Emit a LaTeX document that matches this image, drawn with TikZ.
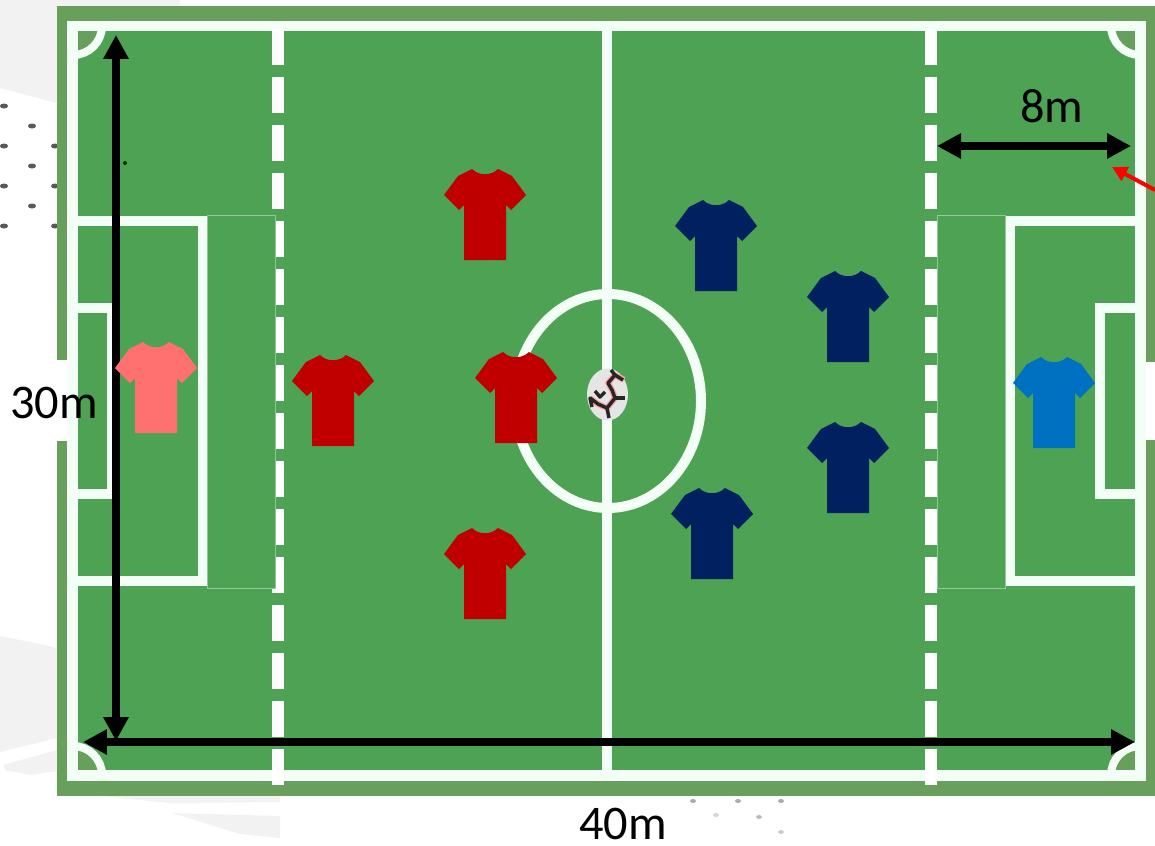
\documentclass[tikz,border=0pt]{standalone}
\usepackage{fontspec}
\setmainfont{Carlito}
\usetikzlibrary{arrows.meta}
\definecolor{pitchband}{RGB}{104,159,92}
\definecolor{pitchgreen}{RGB}{77,163,83}
\definecolor{linewhite}{RGB}{243,255,246}
\definecolor{teamred}{RGB}{192,0,0}
\definecolor{keeperpink}{RGB}{255,112,112}
\definecolor{teamnavy}{RGB}{0,32,96}
\definecolor{keeperblue}{RGB}{0,112,192}
\definecolor{smear}{RGB}{242,242,242}

\begin{document}
\begin{tikzpicture}[
    x=0.02cm, y=-0.02cm,
    pitchline/.style={draw=linewhite, line width=0.2cm},
    cornerline/.style={draw=linewhite, fill=pitchband, line width=0.16cm},
    halfway/.style={draw=white, line width=0.24cm, dash pattern=on 0.72cm off 0.24cm},
    zone/.style={draw=white!40!pitchgreen, fill=pitchgreen, line width=0.02cm},
    measure/.style={line width=0.16cm, {Triangle[length=0.48cm,width=0.48cm]}-{Triangle[length=0.48cm,width=0.48cm]}},
    label/.style={font=\fontsize{27.5}{30}\selectfont, text=black, inner sep=0pt},
    speck/.style={fill=black!65, draw=none},
    seam/.style={draw=black!85, line width=0.07cm, line join=round},
    glow/.style={draw=red!35, line width=0.12cm, line join=round},
    shirt/.pic={
        \path[pic actions] (-13,0) .. controls (-6,7) and (6,7) .. (13,0)
            -- (27,7) -- (41,26) -- (26,41) -- (21,36) -- (21,91) -- (-21,91)
            -- (-21,36) -- (-26,41) -- (-41,26) -- (-27,7) -- cycle;
    }
]
    \useasboundingbox (0,0) rectangle (1155,845);

    % Background smears and specks
    \fill[smear] (0,0) -- (180,0) -- (180,6) -- (57,6) -- (57,103) -- (0,88) -- cycle;
    \fill[smear] (0,636) -- (45,645) -- (57,648) -- (57,738) -- (0,752) -- cycle;
    \fill[smear] (3,765) -- (57,750) -- (57,771) -- (30,775) -- (5,770) -- cycle;
    \fill[smear] (100,796) -- (280,796) -- (280,802) -- (170,803) -- cycle;
    \fill[smear] (172,813) -- (280,816) -- (280,838) -- (240,834) -- cycle;
    \foreach \px/\py in {4/106,32/126,4/146,32/166,4/186,32/206,4/226,55/146,55/186,55/226}
        \fill[speck] (\px,\py) ellipse [x radius=4,y radius=2.5];
    \foreach \px in {693,738,781}
        \fill[speck, opacity=0.5] (\px,801) ellipse [x radius=3,y radius=2];
    \fill[speck, opacity=0.25] (716,815) ellipse [x radius=3,y radius=2];
    \fill[speck, opacity=0.4] (759,817) ellipse [x radius=3,y radius=2];
    \fill[speck, opacity=0.3] (781,832) ellipse [x radius=3,y radius=2];

    % Pitch
    \fill[pitchband] (57,6) rectangle (1155,796);
    \fill[pitchgreen] (72,25) rectangle (1140,775);
    \fill[white] (57,360) rectangle (68,441);
    \fill[white] (1145,362) rectangle (1155,440);
    \draw[cornerline] (73,26) -- (102,26) arc [start angle=0,end angle=90,radius=29] -- cycle;
    \draw[cornerline] (1140,26) -- (1111,26) arc [start angle=180,end angle=90,radius=29] -- cycle;
    \draw[cornerline] (73,775) -- (102,775) arc [start angle=0,end angle=-90,radius=29] -- cycle;
    \draw[cornerline] (1140,775) -- (1111,775) arc [start angle=180,end angle=270,radius=29] -- cycle;
    \draw[pitchline, line width=0.22cm] (72.5,26) rectangle (1140,775);
    \draw[pitchline] (72.5,220.5) -- (202.5,220.5) -- (202.5,580.5) -- (72.5,580.5);
    \draw[pitchline] (72.5,307.5) -- (112,307.5) -- (112,493.5) -- (72.5,493.5);
    \draw[pitchline] (1140,220.5) -- (1010,220.5) -- (1010,580.5) -- (1140,580.5);
    \draw[pitchline] (1140,307.5) -- (1099.5,307.5) -- (1099.5,493.5) -- (1140,493.5);
    \draw[pitchline] (606.5,25) -- (606.5,775);
    \draw[pitchline] (608,401) ellipse [x radius=93,y radius=107];

    % Dashed lines and the zones beside them
    \draw[halfway] (278,29) -- (278,785);
    \draw[halfway] (931,29) -- (931,785);
    \draw[zone] (207,215) rectangle (275,588);
    \draw[zone] (937,215) rectangle (1005,588);
    \fill[black!80!green] (125,163) circle [radius=2];

    % Measures
    \coordinate (topend) at (116,35);
    \coordinate (bottomend) at (116,741);
    \coordinate (leftend) at (83,742);
    \coordinate (rightend) at (1135,742);
    \coordinate (zoneleft) at (937,146);
    \coordinate (zoneright) at (1131,146);
    \coordinate (pointerstart) at (1155,190);
    \coordinate (pointertip) at (1112,167);
    \draw[measure] (topend) -- (bottomend);
    \draw[measure] (leftend) -- (rightend);
    \draw[measure] (zoneleft) -- (zoneright);
    \draw[red, line width=0.08cm, -{Triangle[length=0.3cm,width=0.3cm]}] (pointerstart) -- (pointertip);

    % Players
    \pic[fill=keeperpink] (keeper1) at (156,342) {shirt};
    \pic[fill=teamred] (red1) at (485,169) {shirt};
    \pic[fill=teamred] (red2) at (333,355) {shirt};
    \pic[fill=teamred] (red3) at (516,352) {shirt};
    \pic[fill=teamred] (red4) at (485,528) {shirt};
    \pic[fill=teamnavy] (navy1) at (716,200) {shirt};
    \pic[fill=teamnavy] (navy2) at (848,271) {shirt};
    \pic[fill=teamnavy] (navy3) at (848,422) {shirt};
    \pic[fill=teamnavy] (navy4) at (712,488) {shirt};
    \pic[fill=keeperblue] (keeper2) at (1054,357) {shirt};

    % Ball
    \fill[black!10] (607.5,394.5) ellipse [x radius=20.5,y radius=26];
    \draw[glow] (624,380) -- (615,375) -- (608,383) -- (612,390) -- (615,398) -- (607,408) -- (598,404) -- (590,398);
    \draw[seam] (611,370) -- (615,375) -- (608,383) -- (612,390) -- (615,398) -- (607,408) -- (598,404) -- (590,398) -- (592,407);
    \draw[seam] (615,375) -- (623,380);
    \draw[seam] (615,398) -- (625,398);
    \draw[seam] (607,408) -- (609,418);
    \draw[seam] (595,391) -- (600,397) -- (605,392);

    \node[label] (width) at (1052,106) {8m};
    \node[label] (height) at (54,403) {30m};
    \node[label] (length) at (623,824) {40m};
\end{tikzpicture}
\end{document}
